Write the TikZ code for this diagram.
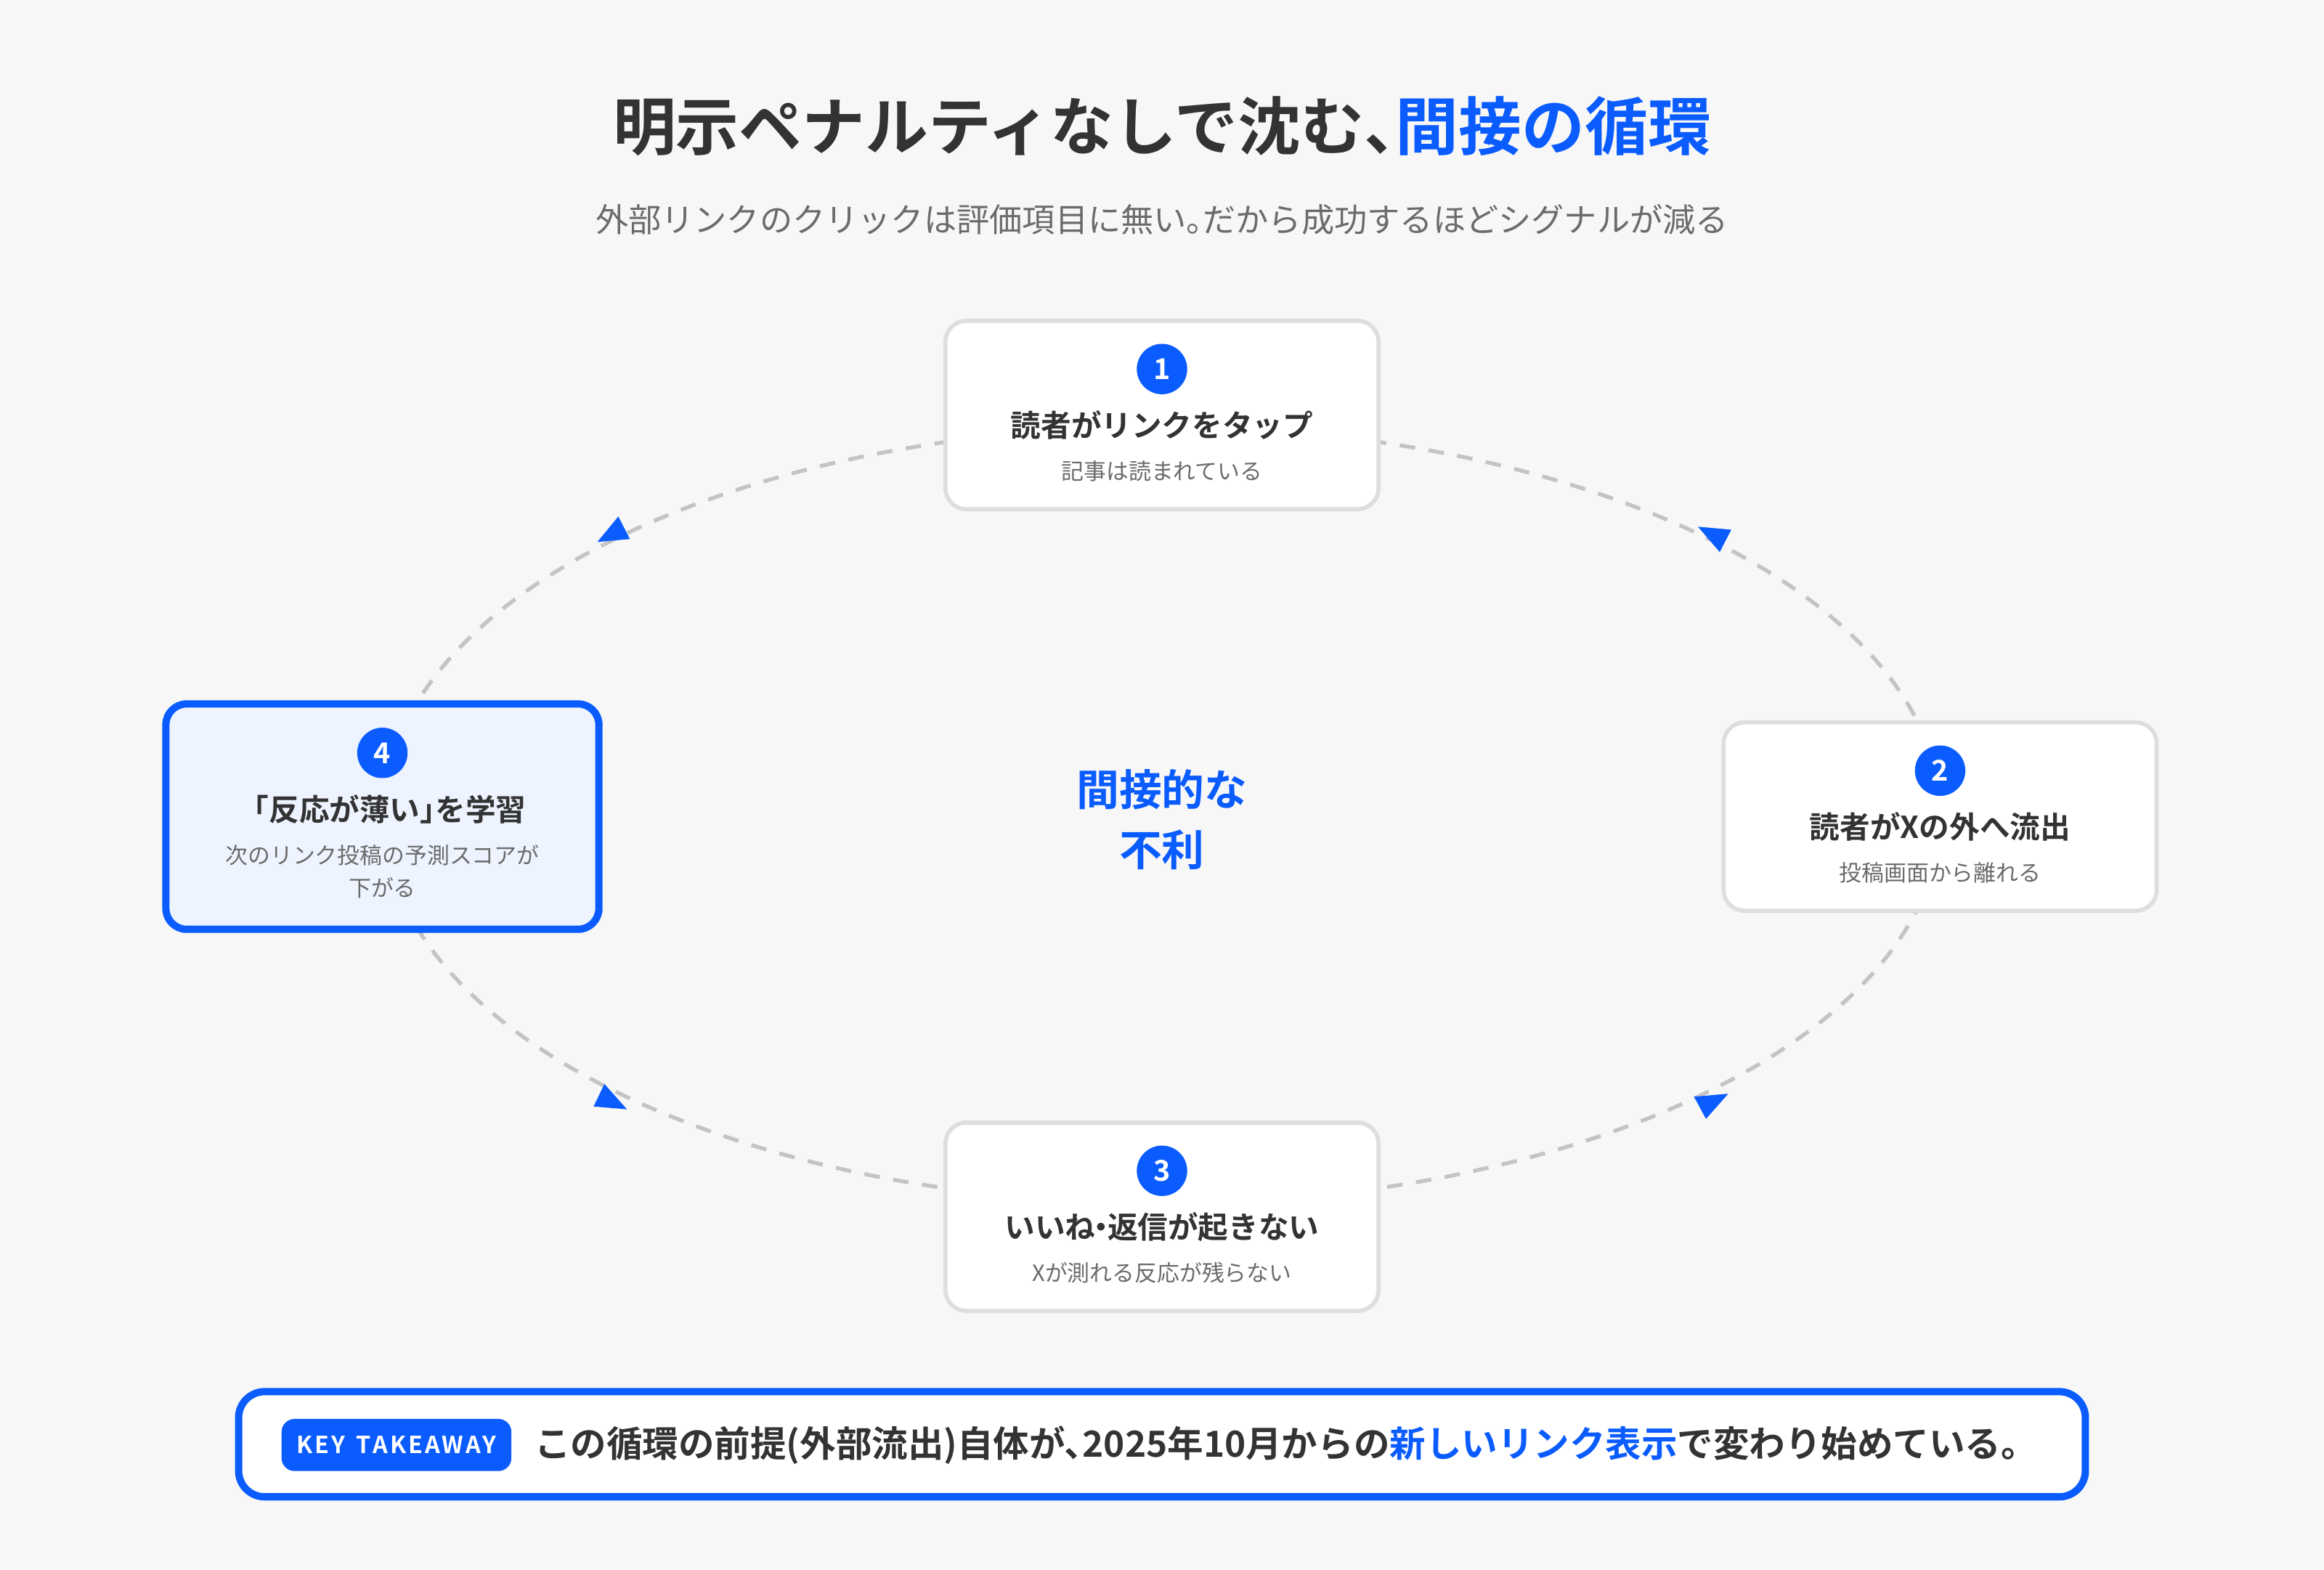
\documentclass[tikz,border=0pt]{standalone}
\usepackage{fontspec}
\setmainfont{Noto Sans CJK JP}
\newfontfamily\jpbold{Noto Sans CJK JP Bold}
\usetikzlibrary{arrows.meta, positioning, calc}
\definecolor{cyc_blue}{HTML}{0A5CFF}
\definecolor{cyc_dark}{HTML}{333333}
\definecolor{cyc_gray}{HTML}{6B6B6B}
\definecolor{cyc_line}{HTML}{C4C4C4}
\definecolor{cyc_edge}{HTML}{DEDEDE}
\definecolor{cyc_bg}{HTML}{F7F7F7}
\definecolor{cyc_pale}{HTML}{EEF4FF}
\tikzset{
  stage/.style={draw=cyc_edge, line width=0.8pt, fill=white, rounded corners=4pt,
    minimum width=2.92cm, minimum height=1.27cm},
  num/.style={circle, fill=cyc_blue, text=white, minimum size=0.34cm, inner sep=0pt,
    font=\jpbold\fontsize{5.5}{6}\selectfont},
  head/.style={text=cyc_dark, font=\jpbold\fontsize{5.8}{7}\selectfont},
  note/.style={text=cyc_gray, font=\fontsize{4.3}{6.3}\selectfont, align=center},
  tip/.style={fill=cyc_blue},
}
\begin{document}
\begin{tikzpicture}[x=0.01cm, y=-0.01cm]
  \fill[cyc_bg] (0,0) rectangle (1568,1059);
  \useasboundingbox (0,0) rectangle (1568,1059);
  % title
  \node[font=\jpbold\fontsize{12.1}{14}\selectfont, text=cyc_dark] (title) at (784,85)
    {明示ペナルティなしで沈む、\hspace{-0.5em}\textcolor{cyc_blue}{間接の循環}};
  \node[font=\fontsize{6.3}{8}\selectfont, text=cyc_gray] (sub) at (784,148)
    {外部リンクのクリックは評価項目に無い。\hspace{-0.5em}だから成功するほどシグナルが減る};
  % cycle
  \draw[cyc_line, line width=0.75pt, dash pattern=on 3pt off 2.6pt] (784,550) ellipse (525 and 262);
  \fill[tip] (403,365.7) -- (417.2,348.5) -- (425,363.7) -- cycle;
  \fill[tip] (1145.6,355.4) -- (1168.1,357.4) -- (1160.3,372.5) -- cycle;
  \fill[tip] (1143,740) -- (1166,738) -- (1151,755) -- cycle;
  \fill[tip] (400.5,746.6) -- (407.8,731.4) -- (423,748.5) -- cycle;
  % stages
  \node[stage] (s1) at (784,280) {};
  \node[stage] (s2) at (1309,551) {};
  \node[stage] (s3) at (784,821) {};
  \node[stage, draw=cyc_blue, line width=1.4pt, fill=cyc_pale, minimum height=1.52cm] (s4) at (258,551) {};
  \node[num] (n1) at (784,249) {1};
  \node[head] at (784,287) {読者がリンクをタップ};
  \node[note] at (784,318) {記事は読まれている};
  \node[num] (n2) at (1309,520) {2};
  \node[head] at (1309,558) {読者がXの外へ流出};
  \node[note] at (1309,589) {投稿画面から離れる};
  \node[num] (n3) at (784,790) {3};
  \node[head] at (784,828) {いいね\hspace{-0.3em}・\hspace{-0.3em}返信が起きない};
  \node[note] at (784,859) {Xが測れる反応が残らない};
  \node[num] (n4) at (258,508) {4};
  \node[head] at (258,546) {「反応が薄い」\hspace{-0.5em}を学習};
  \node[note] at (258,588) {次のリンク投稿の予測スコアが\\下がる};
  % center
  \node[font=\jpbold\fontsize{8.2}{11.5}\selectfont, text=cyc_blue, align=center] (mid) at (784,553)
    {間接的な\\不利};
  % takeaway
  \draw[cyc_blue, line width=1.4pt, fill=white, rounded corners=5pt] (161,939) rectangle (1407,1010);
  \node[fill=cyc_blue, text=white, rounded corners=2.5pt, minimum width=1.55cm, minimum height=0.34cm,
    inner xsep=2pt, font=\jpbold\fontsize{4.5}{5}\selectfont] (key) at (267.5,975)
    {K\kern0.4pt E\kern0.4pt Y\hspace{2.2pt}T\kern0.4pt A\kern0.4pt K\kern0.4pt E\kern0.4pt A\kern0.4pt W\kern0.4pt A\kern0.4pt Y};
  \node[anchor=west, inner sep=0pt, text=cyc_dark, font=\jpbold\fontsize{6.9}{8}\selectfont] (take) at (360,975)
    {この循環の前提(外部流出)自体が、\hspace{-0.5em}2025年10月からの\textcolor{cyc_blue}{新しいリンク表示}で変わり始めている。};
\end{tikzpicture}
\end{document}
